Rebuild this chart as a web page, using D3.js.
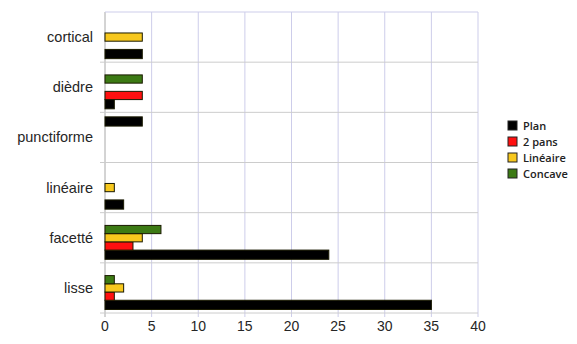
<!DOCTYPE html>
<html>
<head>
<meta charset="utf-8">
<script src="https://d3js.org/d3.v7.min.js"></script>
<style>
  body { margin: 0; background: #fff; }
  #chart text { font-family: "Liberation Sans", Arial, sans-serif; fill: #262626; }
  #chart .legend text { font-family: "Open Sans", sans-serif; font-size: 11px; font-weight: 600; fill: #222; }
</style>
</head>
<body>
<div id="chart"></div>
<script>
// categories, top to bottom
const categories = ["cortical", "dièdre", "punctiforme", "linéaire", "facetté", "lisse"];

// series values (one per category)
const plan     = [4, 1, 0, 2, 24, 35];
const deuxPans = [0, 4, 0, 0, 3, 1];
const lineaire = [4, 0, 0, 1, 4, 2];
const concave  = [0, 4, 0, 0, 6, 1];
const sansNom  = [0, 0, 4, 0, 0, 0];   // unlabelled black series (top slot)

const seriesNames  = ["Plan", "2 pans", "Linéaire", "Concave", ""];
const seriesValues = [plan, deuxPans, lineaire, concave, sansNom];
const seriesColors = ["#000000", "#ff1010", "#f7c81e", "#3c7a14", "#000000"];

const xTicks = [0, 5, 10, 15, 20, 25, 30, 35, 40];

const w = 577, h = 344;
const mLeft = 105, mRight = 478, mTop = 12, mBottom = 313;

const svg = d3.select("#chart").append("svg")
  .attr("width", w)
  .attr("height", h);

const x = d3.scaleLinear().domain([0, 40]).range([mLeft, mRight]);
const y = d3.scaleBand().domain(categories).range([mTop, mBottom]).padding(0);

// slots inside a category: top slot is the unnamed one, Plan at the bottom
const slotOrder = [4, 3, 2, 1, 0];
const ySub = d3.scaleBand().domain(slotOrder).range([0, y.bandwidth()])
  .paddingInner(0).paddingOuter(0.55);

// vertical grid
svg.append("g")
  .selectAll("line")
  .data(xTicks)
  .enter()
  .append("line")
  .attr("x1", d => x(d)).attr("x2", d => x(d))
  .attr("y1", mTop).attr("y2", mBottom + 4)
  .attr("stroke", d => d === 0 ? "#a8a8a8" : "#cdcdea")
  .attr("stroke-width", 1);

// horizontal grid at category boundaries
const bounds = categories.map(c => y(c)).concat([mBottom]);
svg.append("g")
  .selectAll("line")
  .data(bounds)
  .enter()
  .append("line")
  .attr("x1", (d, i) => i === 0 ? mLeft : mLeft - 5)
  .attr("x2", mRight)
  .attr("y1", d => d).attr("y2", d => d)
  .attr("stroke", (d, i) => i === 0 ? "#cdcdea" : "#cccccc")
  .attr("stroke-width", 1);

// bars
const bars = [];
seriesValues.forEach((vals, s) => {
  vals.forEach((v, i) => {
    if (v > 0) bars.push({ cat: categories[i], s: s, v: v });
  });
});

svg.append("g")
  .selectAll("rect")
  .data(bars)
  .enter()
  .append("rect")
  .attr("x", x(0))
  .attr("y", d => y(d.cat) + ySub(d.s))
  .attr("width", d => x(d.v) - x(0))
  .attr("height", d => seriesColors[d.s] === "#000000" ? ySub.bandwidth() + 1 : ySub.bandwidth())
  .attr("fill", d => seriesColors[d.s])
  .attr("stroke", "#1a1a00")
  .attr("stroke-width", 1);

// x axis labels
svg.append("g")
  .selectAll("text")
  .data(xTicks)
  .enter()
  .append("text")
  .attr("x", d => x(d))
  .attr("y", 331)
  .attr("text-anchor", "middle")
  .style("font-size", "14px")
  .text(d => d);

// category labels
svg.append("g")
  .selectAll("text")
  .data(categories)
  .enter()
  .append("text")
  .attr("x", 93)
  .attr("y", d => y(d) + y.bandwidth() / 2 + 5)
  .attr("text-anchor", "end")
  .style("font-size", "14.5px")
  .text(d => d);

// legend (unnamed series left out)
const legendItems = seriesNames
  .map((n, i) => ({ name: n, color: seriesColors[i] }))
  .filter(d => d.name !== "");

const legend = svg.append("g").attr("class", "legend")
  .attr("transform", "translate(508,121)");

const item = legend.selectAll("g")
  .data(legendItems)
  .enter()
  .append("g")
  .attr("transform", (d, i) => "translate(0," + i * 16 + ")");

item.append("rect")
  .attr("width", 9).attr("height", 9)
  .attr("fill", d => d.color)
  .attr("stroke", "#222")
  .attr("stroke-width", 1);

item.append("text")
  .attr("x", 15)
  .attr("y", 9)
  .text(d => d.name);
</script>
</body>
</html>
